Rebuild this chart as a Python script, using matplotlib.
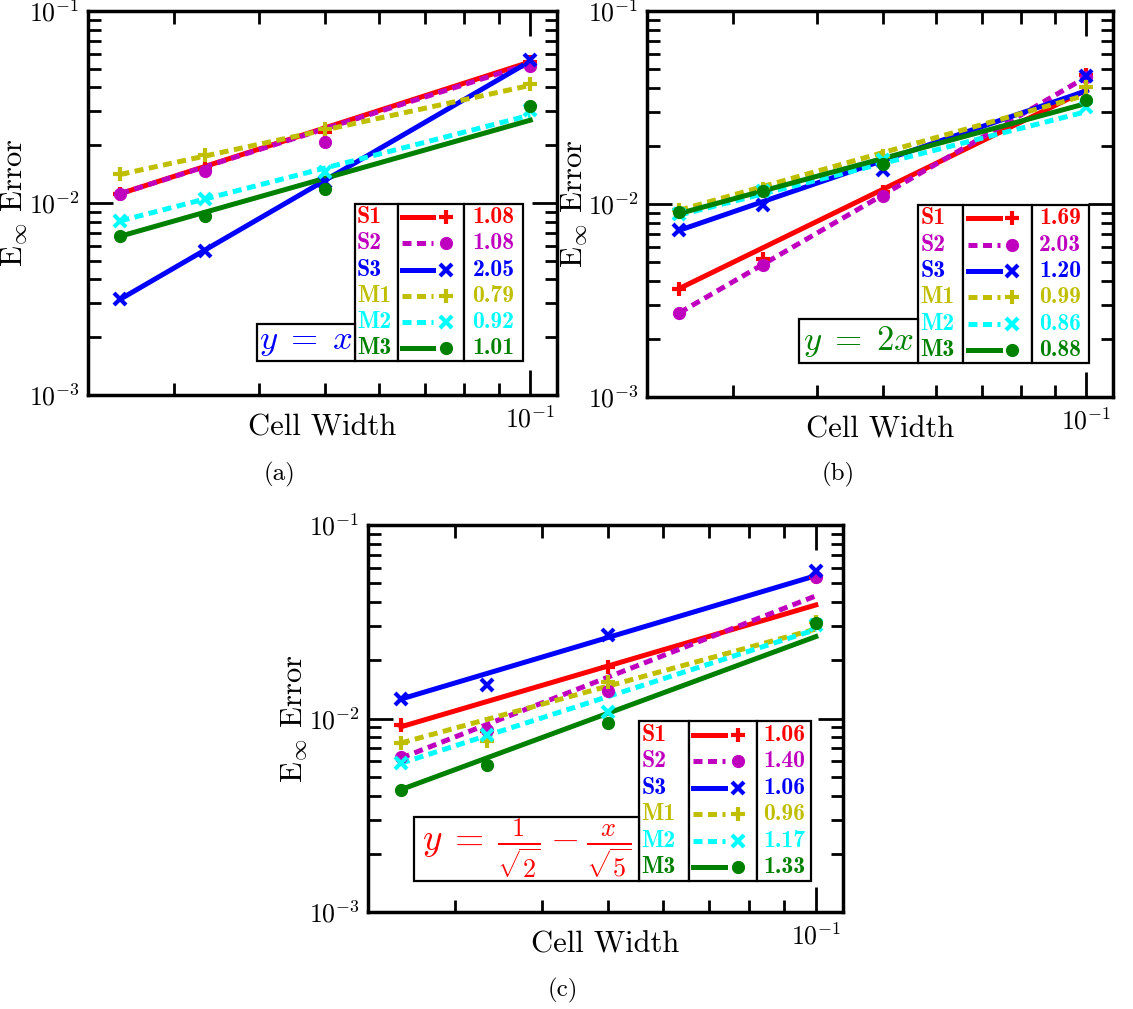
import matplotlib.pyplot as plt
from matplotlib.lines import Line2D
from matplotlib.patches import Rectangle
from matplotlib.ticker import NullFormatter, FixedLocator

plt.rcParams['font.family'] = 'cmr10'
plt.rcParams['mathtext.fontset'] = 'cm'
plt.rcParams['axes.formatter.use_mathtext'] = True

# cell widths used in the convergence study
cell_width = [0.025, 0.0333, 0.05, 0.1]
names = ['S1', 'S2', 'S3', 'M1', 'M2', 'M3']

# (a) y = x : measured errors and fitted line (value at smallest / largest width)
err_a = [[0.0112, 0.0151, 0.0235, 0.0543],
         [0.0111, 0.0147, 0.0208, 0.0515],
         [0.00316, 0.00564, 0.0129, 0.0554],
         [0.0141, 0.0177, 0.0244, 0.0419],
         [0.00808, 0.01043, 0.0145, 0.0304],
         [0.00672, 0.00854, 0.0119, 0.0319]]
fit_a = [[0.0112, 0.0543], [0.0112, 0.0532], [0.00316, 0.0548],
         [0.0141, 0.0410], [0.00808, 0.0287], [0.00672, 0.0270]]
rate_a = ['1.08', '1.08', '2.05', '0.79', '0.92', '1.01']

# (b) y = 2x
err_b = [[0.00365, 0.00516, 0.0116, 0.0466],
         [0.00273, 0.00482, 0.0110, 0.0455],
         [0.00731, 0.00986, 0.0150, 0.0460],
         [0.00929, 0.0120, 0.0177, 0.0405],
         [0.00893, 0.0117, 0.0169, 0.0319],
         [0.00911, 0.0117, 0.0162, 0.0346]]
fit_b = [[0.00365, 0.0389], [0.00273, 0.0455], [0.00731, 0.0386],
         [0.00929, 0.0367], [0.00876, 0.0301], [0.00893, 0.0332]]
rate_b = ['1.69', '2.03', '1.20', '0.99', '0.86', '0.88']

# (c) y = 1/sqrt(2) - x/sqrt(5)
err_c = [[0.00921, 0.00860, 0.0185, 0.0541],
         [0.00636, 0.00877, 0.0138, 0.0536],
         [0.0126, 0.0149, 0.0269, 0.0581],
         [0.00747, 0.00762, 0.0155, 0.0315],
         [0.00587, 0.00826, 0.0108, 0.0305],
         [0.00429, 0.00575, 0.00943, 0.0311]]
fit_c = [[0.00906, 0.0386], [0.00624, 0.0430], [0.0126, 0.0547],
         [0.00747, 0.0290], [0.00587, 0.0288], [0.00429, 0.0265]]
rate_c = ['1.06', '1.40', '1.06', '0.96', '1.17', '1.33']

colors = ['#ff0000', '#bf00bf', '#0000ff', '#bfbf00', '#00ffff', '#008000']
dashed = [False, True, False, True, True, False]
markers = ['+', 'o', 'x', '+', 'x', 'o']
msize = {'+': 10.5, 'x': 9, 'o': 8.5}
mwidth = {'+': 3, 'x': 3, 'o': 1}

fig = plt.figure(figsize=(11.33, 10.09), dpi=100)


def style(i):
    return dict(color=colors[i], lw=3.6,
                ls=(0, (1.8, 1.1)) if dashed[i] else '-')


def panel(pos, err, fit, rate, eq, eq_color, eq_size, box):
    ax = fig.add_axes(pos)
    for i in range(6):
        ax.plot([cell_width[0], cell_width[-1]], fit[i], zorder=2, **style(i))
        ax.plot(cell_width, err[i], ls='none', marker=markers[i],
                color=colors[i], ms=msize[markers[i]],
                mew=mwidth[markers[i]], zorder=3)
    ax.set_xscale('log')
    ax.set_yscale('log')
    ax.set_xlim(0.0224, 0.1095)
    ax.set_ylim(1e-3, 1e-1)
    ax.xaxis.set_major_locator(FixedLocator([0.1]))
    ax.xaxis.set_minor_locator(FixedLocator([0.03, 0.04, 0.05, 0.06, 0.07, 0.08, 0.09]))
    ax.xaxis.set_minor_formatter(NullFormatter())
    ax.yaxis.set_minor_formatter(NullFormatter())
    ax.tick_params(which='both', direction='in', top=True, right=True,
                   labelsize=18.5, width=2)
    ax.tick_params(which='major', length=18)
    ax.tick_params(which='minor', length=9)
    ax.tick_params(axis='x', pad=8)
    ax.tick_params(axis='y', pad=6)
    for s in ax.spines.values():
        s.set_linewidth(2.5)
    ax.set_xlabel('Cell Width', fontsize=22)
    ax.set_ylabel(r'E$_\infty$ Error', fontsize=22)
    ax.xaxis.set_label_coords(0.5, -0.05)
    ax.yaxis.set_label_coords(-0.125, 0.5)

    # table-style legend
    x0, x1, x2, x3, yb, yt, ex, et = box
    for left, right, top in [(x0, x1, yt), (x1, x2, yt), (x2, x3, yt), (ex, x0, et)]:
        ax.add_patch(Rectangle((left, yb), right - left, top - yb,
                               transform=ax.transAxes, fc='white', ec='black',
                               lw=1.6, zorder=5, clip_on=False))
    row = (yt - yb) / 6
    w = x2 - x1
    for i in range(6):
        yc = yt - (i + 0.5) * row
        ax.text(x0 + 0.004, yc, names[i], color=colors[i], family='cmb10',
                fontsize=17, ha='left', va='center', transform=ax.transAxes, zorder=6)
        ax.add_line(Line2D([x1 + 0.06 * w, x1 + 0.53 * w], [yc, yc],
                           transform=ax.transAxes, zorder=6, **style(i)))
        ax.add_line(Line2D([x1 + 0.72 * w], [yc], ls='none', marker=markers[i],
                           color=colors[i], ms=msize[markers[i]],
                           mew=mwidth[markers[i]], transform=ax.transAxes, zorder=6))
        ax.text((x2 + x3) / 2, yc, rate[i], color=colors[i], family='cmb10',
                fontsize=17, ha='center', va='center', transform=ax.transAxes, zorder=6)
    ax.text((ex + x0) / 2, (yb + et) / 2, eq, color=eq_color, fontsize=eq_size,
            ha='center', va='center', transform=ax.transAxes, zorder=6)
    return ax


panel([0.0777, 0.6085, 0.4140, 0.3806], err_a, fit_a, rate_a, r'$y\;=\;x$', '#0000ff', 25,
      (0.569, 0.661, 0.802, 0.927, 0.0885, 0.497, 0.360, 0.185))
panel([0.5711, 0.6065, 0.4113, 0.3826], err_b, fit_b, rate_b, r'$y\;=\;2x$', '#008000', 25,
      (0.582, 0.679, 0.825, 0.948, 0.088, 0.497, 0.326, 0.202))
panel([0.3248, 0.0961, 0.4192, 0.3836], err_c, fit_c, rate_c,
      r'$y\:=\:\frac{1}{\sqrt{2}}\:-\:\frac{x}{\sqrt{5}}$', '#ff0000', 27,
      (0.5716, 0.6758, 0.818, 0.9337, 0.081, 0.4925, 0.0962, 0.246))

fig.text(280 / 1133, 1 - 474 / 1009, '(a)', fontsize=18, ha='center', va='center')
fig.text(838 / 1133, 1 - 474 / 1009, '(b)', fontsize=18, ha='center', va='center')
fig.text(563 / 1133, 1 - 990 / 1009, '(c)', fontsize=18, ha='center', va='center')

fig.savefig('out.png', dpi=100)
